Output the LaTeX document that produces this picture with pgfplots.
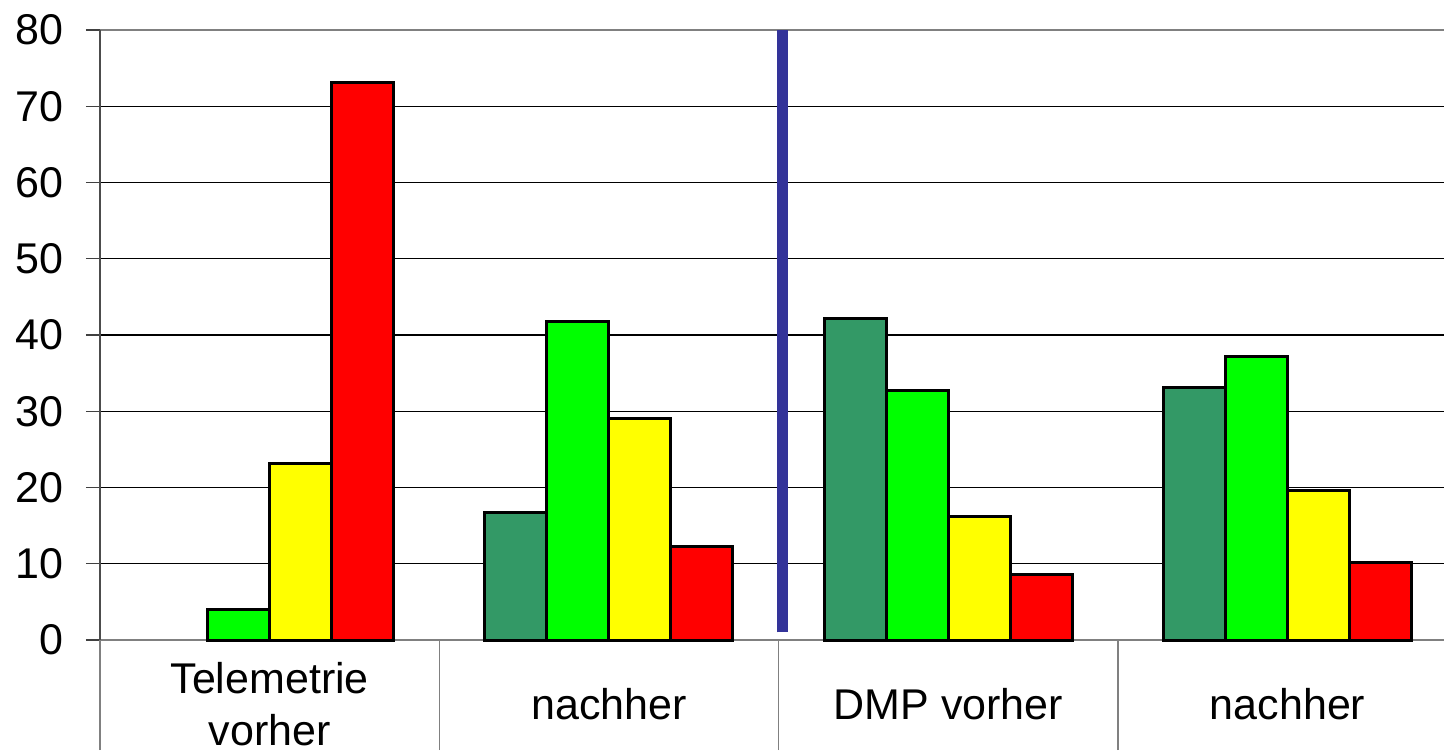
\documentclass[border=0pt]{standalone}
\usepackage{pgfplots}
\pgfplotsset{compat=1.18}
\usepackage{fontspec}
\setmainfont{Liberation Sans}

\definecolor{darkgreen}{RGB}{51,153,102}
\definecolor{brightgreen}{RGB}{0,255,0}
\definecolor{brightyellow}{RGB}{255,255,0}
\definecolor{brightred}{RGB}{255,0,0}
\definecolor{divider}{RGB}{51,51,153}

\begin{document}
\fontsize{21.5}{26}\selectfont
\begin{tikzpicture}
\clip (-50pt,-55pt) rectangle (672pt,320pt);
\useasboundingbox (-50pt,-55pt) rectangle (672pt,320pt);
\begin{axis}[
  scale only axis,
  x=169.65pt, y=3.8125pt,
  xmin=-0.5, xmax=3.5,
  ymin=0, ymax=80,
  ytick={0,10,...,80},
  xtick={0,1,2,3},
  xticklabels={{Telemetrie\\vorher},{nachher},{DMP vorher},{nachher}},
  xticklabel style={align=center, anchor=center, yshift=-25pt},
  xtick style={draw=none},
  extra x ticks={-0.5,0.5,1.5,2.5},
  extra x tick labels={},
  extra x tick style={major tick length=55pt, xtick style={draw=gray, line width=0.6pt}},
  tick align=outside,
  tick pos=left,
  major tick length=7pt,
  ytick style={draw=black!75, line width=0.6pt},
  ymajorgrids,
  major grid style={black, line width=0.7pt},
  separate axis lines,
  x axis line style={draw=gray, line width=1.3pt},
  y axis line style={draw=black!70, line width=1pt},
  axis on top=false,
  yticklabel style={font=\fontsize{21.5}{26}\selectfont, xshift=-4pt},
  xticklabel style={font=\fontsize{21.5}{26}\selectfont},
  /pgf/number format/assume math mode=true,
  clip=false,
]
% four series per category, placed side by side
\addplot[ybar, bar width=31pt, bar shift=-46.5pt, fill=darkgreen, draw=black, line width=1.5pt]
  coordinates {(1,16.7) (2,42.2) (3,33.1)};
\addplot[ybar, bar width=31pt, bar shift=-15.5pt, fill=brightgreen, draw=black, line width=1.5pt]
  coordinates {(0,4.0) (1,41.8) (2,32.7) (3,37.2)};
\addplot[ybar, bar width=31pt, bar shift=15.5pt, fill=brightyellow, draw=black, line width=1.5pt]
  coordinates {(0,23.2) (1,29.1) (2,16.2) (3,19.6)};
\addplot[ybar, bar width=31pt, bar shift=46.5pt, fill=brightred, draw=black, line width=1.5pt]
  coordinates {(0,73.1) (1,12.3) (2,8.6) (3,10.1)};
% divider between the two studies
\addplot[divider, line width=5.5pt, mark=none] coordinates {(1.51,1) (1.51,80)};
\end{axis}
\end{tikzpicture}
\end{document}
